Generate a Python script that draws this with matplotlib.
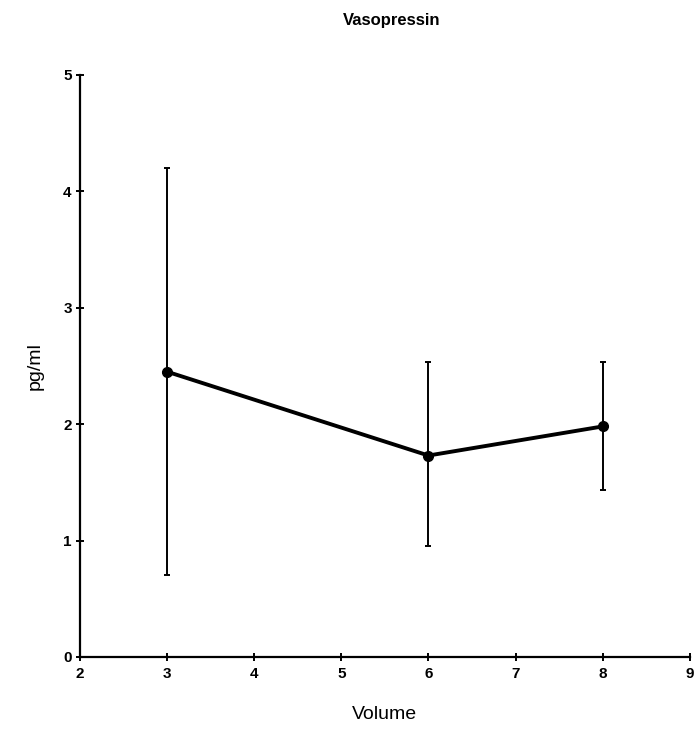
import matplotlib
matplotlib.use("Agg")
import matplotlib.pyplot as plt

plt.rcParams['font.family'] = ['Liberation Sans', 'DejaVu Sans']

volume = [3, 6, 8]
mean_pgml = [2.45, 1.73, 1.98]
err_upper = [4.20, 2.53, 2.53]
err_lower = [0.70, 0.95, 1.43]

x_ticks = [2, 3, 4, 5, 6, 7, 8, 9]
y_ticks = [0, 1, 2, 3, 4, 5]

fig = plt.figure(figsize=(6.96, 7.34), dpi=100)
ax = fig.add_axes([0.115, 0.105, 0.876, 0.793])

yerr = [[m - lo for m, lo in zip(mean_pgml, err_lower)],
        [hi - m for m, hi in zip(mean_pgml, err_upper)]]
ax.errorbar(volume, mean_pgml, yerr=yerr, color='black', linewidth=2.8,
            elinewidth=1.4, capsize=2.5, capthick=1.4, marker='o', markersize=7)

ax.set_xlim(2, 9)
ax.set_ylim(0, 5)
ax.set_xticks(x_ticks)
ax.set_yticks(y_ticks)
for s in ['top', 'right']:
    ax.spines[s].set_visible(False)
for s in ['left', 'bottom']:
    ax.spines[s].set_linewidth(1.6)
ax.tick_params(direction='inout', length=6, width=1.4, labelsize=11)
for lab in ax.get_xticklabels() + ax.get_yticklabels():
    lab.set_fontweight('bold')
ax.tick_params(axis='x', pad=4)
ax.tick_params(axis='y', pad=3)

ax.set_xlabel('Volume', fontsize=14, labelpad=18)
ax.set_ylabel('pg/ml', fontsize=14, labelpad=14)
fig.text(0.563, 0.972, 'Vasopressin', ha='center', va='center',
         fontsize=12, fontweight='bold')

fig.savefig('out.png', dpi=100)
